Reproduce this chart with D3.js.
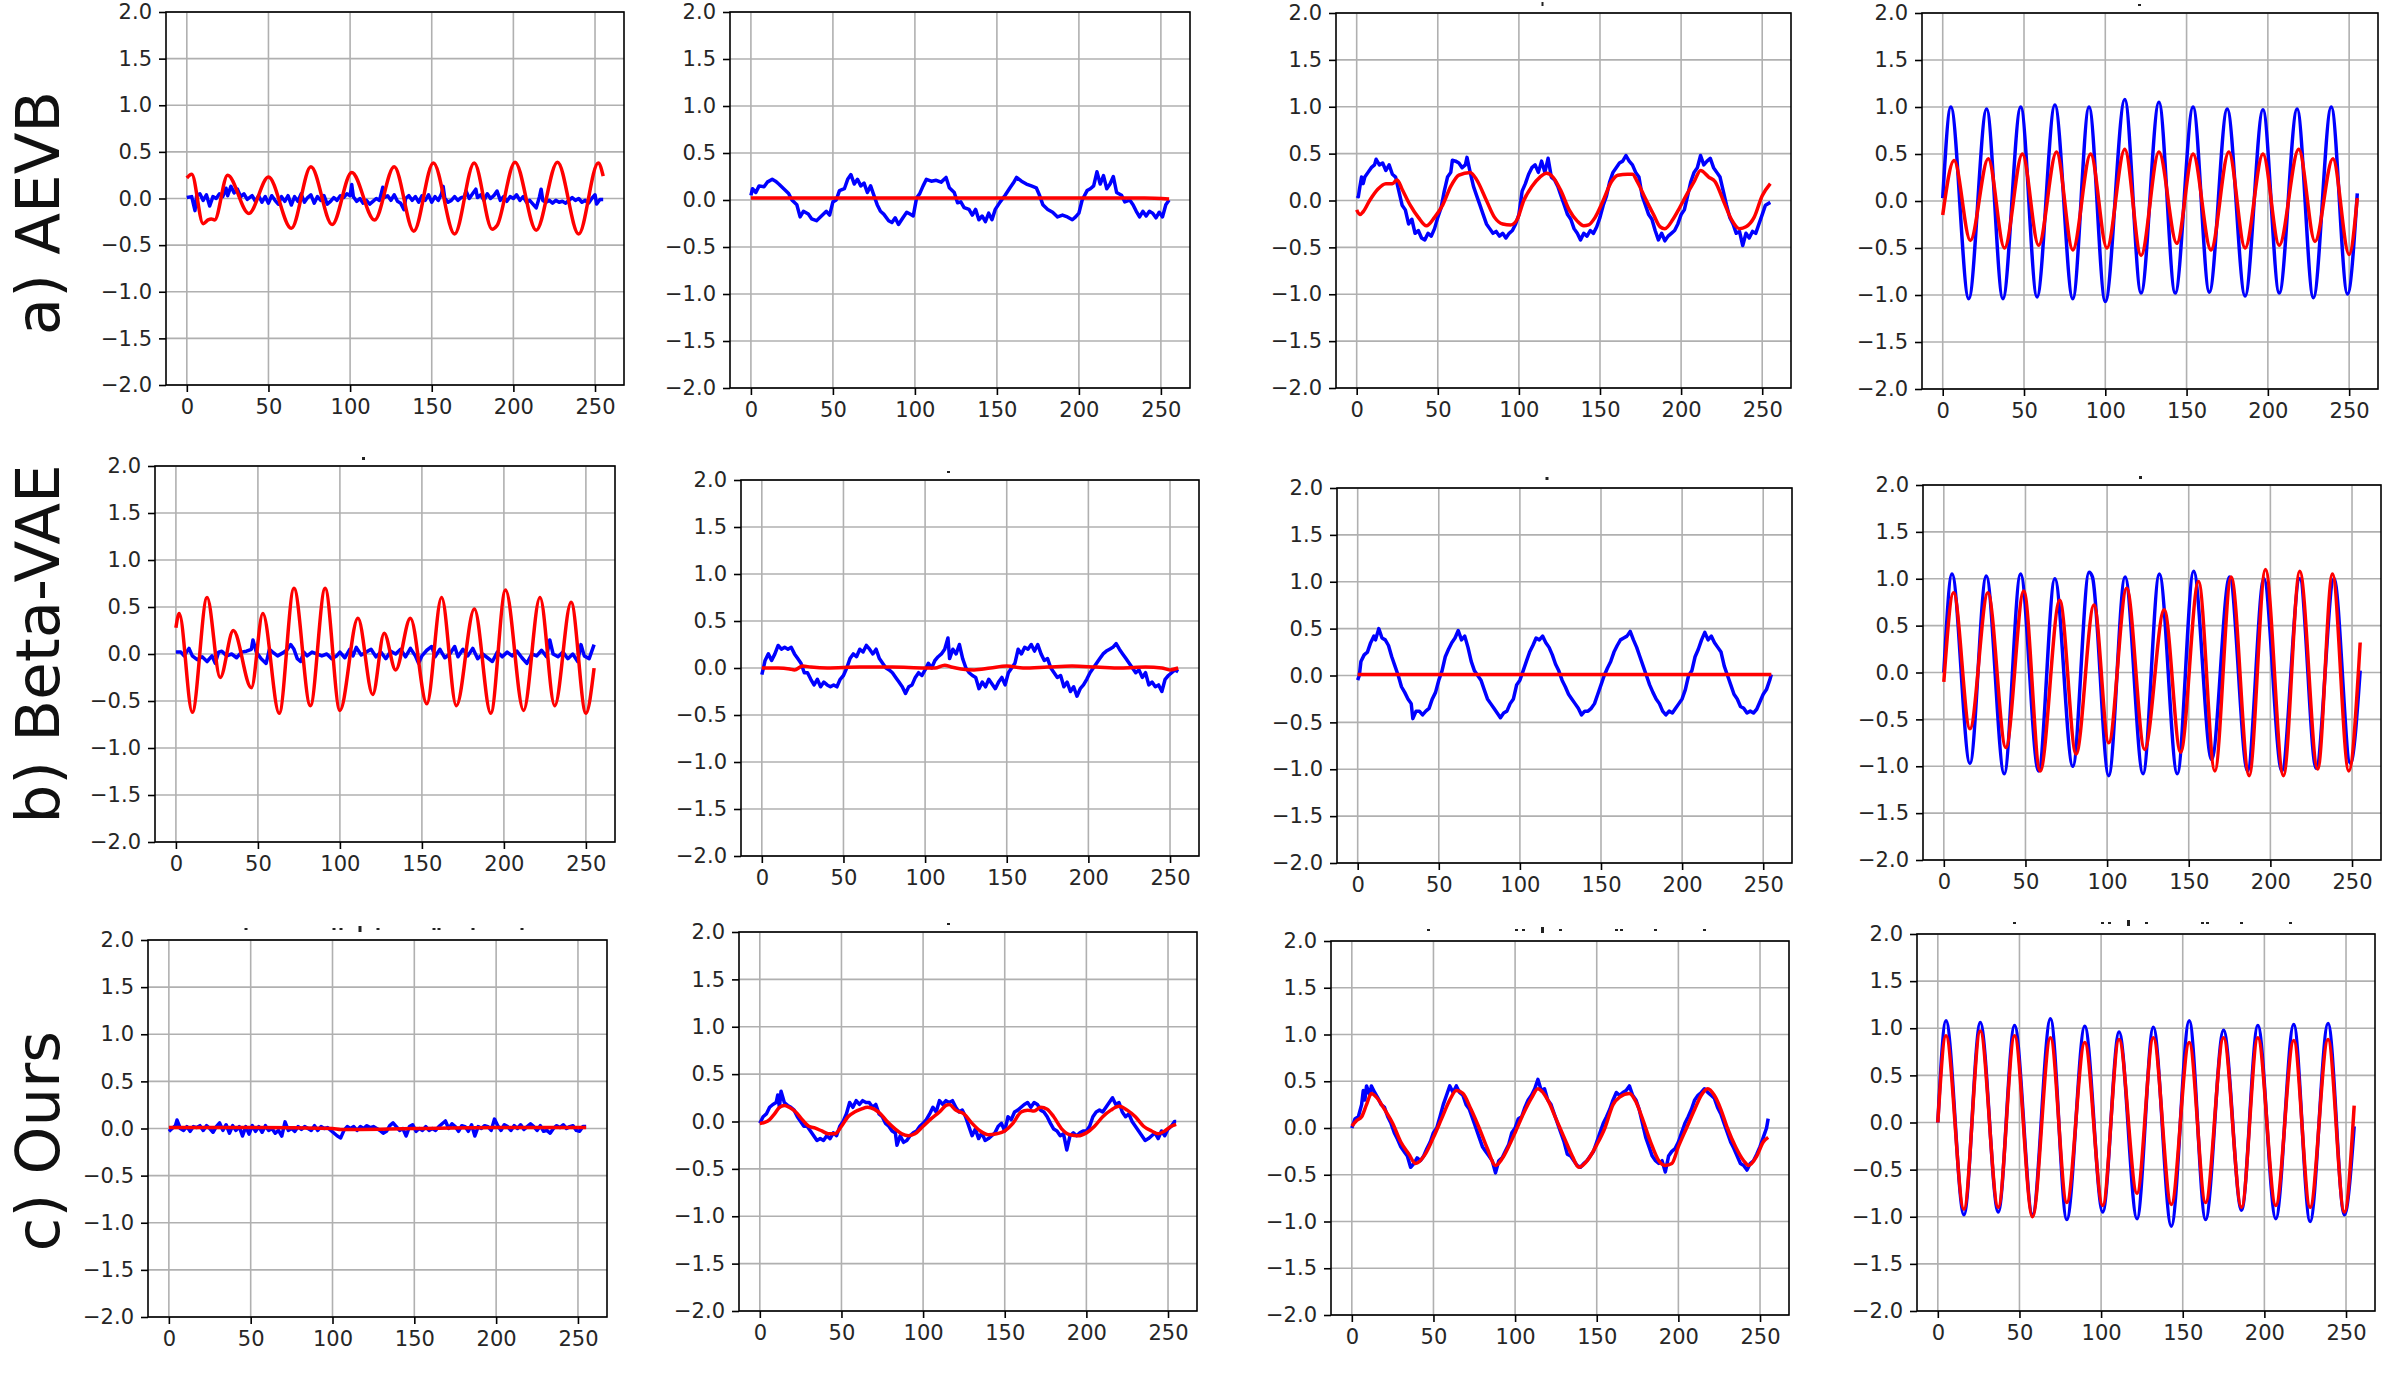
<!DOCTYPE html>
<html>
<head>
<meta charset="utf-8">
<script src="https://cdn.jsdelivr.net/npm/d3@7"></script>
<style>
  body { margin: 0; background: #fff; }
  svg { display: block; font-family: "DejaVu Sans", sans-serif; }
</style>
</head>
<body>
<div id="chart"></div>
<script>
// ---- data (x = sample index, y = value) ----
var xTicks = [0, 50, 100, 150, 200, 250];
var yTicks = [-2, -1.5, -1, -0.5, 0, 0.5, 1, 1.5, 2];
var rowLabels = ["a) AEVB", "b) Beta-VAE", "c) Ours"];

var aevbBlue1 = [[0,0.01],[3,0.02],[5,-0.13],[6,0.03],[8,0.05],[10,-0.02],[12,0.04],[14,-0.08],[16,0.02],[18,0.0],[20,0.05],[22,0.02],[24,0.11],[25,0.03],[27,0.13],[29,0.06],[31,0.1],[33,0.02],[35,0.05],[37,-0.01],[40,0.03],[42,-0.03],[44,0.03],[46,-0.04],[48,0.02],[50,-0.05],[52,0.03],[54,-0.02],[56,-0.06],[58,0.02],[60,-0.03],[62,0.03],[64,-0.07],[66,0.02],[68,-0.03],[70,0.05],[72,-0.04],[74,0.01],[76,0.04],[78,-0.05],[80,0.02],[82,-0.02],[84,0.03],[86,-0.06],[88,-0.03],[90,0.01],[92,-0.02],[94,0.03],[96,0.01],[98,0.05],[100,0.03],[101,0.15],[102,0.02],[104,-0.03],[106,0.0],[108,-0.05],[110,-0.02],[112,-0.06],[114,-0.03],[116,0.0],[118,-0.02],[120,0.12],[121,0.01],[123,0.03],[125,-0.02],[127,0.04],[129,-0.03],[131,-0.05],[133,-0.12],[134,0.0],[136,0.03],[138,-0.02],[140,0.02],[142,-0.04],[144,0.03],[146,-0.02],[148,0.04],[150,-0.04],[152,0.02],[154,-0.02],[156,0.05],[157,0.13],[158,0.0],[160,-0.04],[162,-0.02],[164,0.02],[166,-0.02],[168,0.01],[170,0.02],[171,0.08],[173,0.0],[175,0.05],[177,0.1],[178,0.01],[180,0.04],[182,-0.02],[184,0.05],[186,0.0],[188,0.03],[190,0.08],[192,-0.02],[194,0.02],[196,-0.03],[198,0.02],[200,0.0],[202,0.04],[204,-0.02],[206,0.02],[208,-0.04],[210,-0.02],[212,-0.06],[214,-0.1],[216,0.02],[217,0.1],[218,-0.02],[220,-0.04],[222,-0.02],[224,-0.05],[226,-0.02],[228,-0.04],[230,-0.03],[232,-0.05],[234,-0.02],[236,0.01],[238,-0.02],[240,0.0],[242,-0.04],[244,-0.02],[246,-0.05],[248,0.0],[250,0.04],[251,-0.06],[253,-0.01],[255,-0.01]];
var aevbRed1 = [[0,0.22],[3,0.26],[10,-0.27],[13,-0.23],[15,-0.22],[17,-0.23],[25,0.25],[38,-0.16],[50,0.23],[64,-0.32],[76,0.34],[89,-0.28],[101,0.28],[115,-0.23],[127,0.34],[139,-0.35],[151,0.38],[164,-0.38],[176,0.38],[187,-0.33],[190,-0.29],[201,0.39],[214,-0.34],[227,0.39],[240,-0.38],[252,0.38],[255,0.24]];

var aevbBlue2 = [[0,0.05],[1,0.12],[3,0.08],[5,0.15],[8,0.14],[10,0.19],[13,0.22],[15,0.2],[17,0.17],[20,0.12],[23,0.07],[25,0.0],[28,-0.05],[30,-0.18],[32,-0.12],[35,-0.15],[37,-0.2],[40,-0.22],[43,-0.17],[46,-0.12],[48,-0.16],[50,-0.02],[52,0.0],[54,0.1],[57,0.12],[59,0.22],[61,0.27],[63,0.17],[65,0.22],[67,0.15],[69,0.18],[71,0.08],[73,0.15],[75,0.05],[77,-0.05],[79,-0.12],[81,-0.15],[84,-0.22],[86,-0.24],[88,-0.19],[90,-0.26],[93,-0.18],[95,-0.13],[97,-0.15],[99,-0.17],[101,0.02],[103,0.07],[105,0.15],[107,0.22],[110,0.2],[113,0.21],[116,0.19],[119,0.24],[121,0.13],[124,0.08],[126,-0.03],[128,-0.02],[130,-0.08],[133,-0.1],[135,-0.16],[137,-0.1],[139,-0.21],[141,-0.17],[143,-0.23],[145,-0.14],[147,-0.21],[149,-0.1],[152,-0.02],[155,0.05],[158,0.13],[160,0.18],[162,0.24],[165,0.2],[168,0.17],[171,0.15],[174,0.13],[176,0.05],[178,-0.05],[181,-0.1],[184,-0.13],[187,-0.18],[190,-0.16],[193,-0.18],[196,-0.21],[198,-0.18],[200,-0.14],[202,0.0],[205,0.1],[207,0.12],[209,0.15],[211,0.3],[213,0.17],[215,0.26],[217,0.12],[219,0.17],[221,0.25],[223,0.08],[226,0.05],[228,-0.02],[231,0.0],[233,-0.05],[235,-0.12],[237,-0.18],[239,-0.12],[241,-0.17],[243,-0.12],[245,-0.14],[247,-0.19],[249,-0.13],[251,-0.18],[253,-0.05],[255,0.0]];
var aevbRed2 = [[0,0.02],[40,0.02],[80,0.02],[120,0.02],[160,0.02],[200,0.02],[240,0.02],[255,0.01]];

var aevbBlue3 = [[0,0.05],[1,0.04],[2,0.15],[3,0.25],[4,0.18],[5,0.25],[7,0.3],[9,0.35],[11,0.38],[12,0.44],[14,0.38],[16,0.4],[18,0.32],[20,0.38],[22,0.28],[24,0.25],[26,0.1],[28,-0.05],[30,-0.1],[32,-0.25],[34,-0.2],[36,-0.35],[38,-0.32],[40,-0.4],[42,-0.42],[44,-0.35],[46,-0.38],[48,-0.3],[50,-0.18],[52,-0.08],[54,0.1],[56,0.25],[58,0.3],[59,0.43],[61,0.42],[63,0.4],[65,0.35],[67,0.38],[68,0.46],[70,0.3],[72,0.15],[74,0.05],[76,-0.05],[78,-0.15],[80,-0.25],[82,-0.3],[84,-0.35],[86,-0.33],[88,-0.38],[90,-0.35],[92,-0.4],[94,-0.35],[96,-0.32],[98,-0.25],[100,-0.15],[102,0.1],[104,0.18],[106,0.28],[108,0.35],[110,0.38],[112,0.3],[114,0.42],[116,0.3],[118,0.45],[120,0.25],[122,0.22],[124,0.15],[126,0.05],[128,-0.05],[130,-0.15],[132,-0.2],[134,-0.3],[136,-0.35],[138,-0.42],[140,-0.35],[142,-0.38],[144,-0.32],[146,-0.35],[148,-0.28],[150,-0.18],[152,-0.05],[154,0.05],[156,0.2],[158,0.3],[160,0.35],[162,0.4],[164,0.42],[166,0.48],[168,0.42],[170,0.38],[172,0.3],[174,0.25],[176,0.05],[178,-0.05],[180,-0.15],[182,-0.2],[184,-0.32],[186,-0.42],[188,-0.35],[190,-0.43],[192,-0.38],[194,-0.35],[196,-0.32],[198,-0.25],[200,-0.15],[202,-0.1],[204,0.05],[206,0.2],[208,0.3],[210,0.35],[212,0.48],[214,0.38],[216,0.42],[218,0.45],[220,0.35],[222,0.3],[224,0.25],[226,0.1],[228,-0.05],[230,-0.18],[232,-0.25],[234,-0.35],[236,-0.33],[238,-0.48],[240,-0.35],[242,-0.4],[244,-0.33],[246,-0.35],[248,-0.25],[250,-0.15],[252,-0.05],[255,-0.02]];
var aevbRed3 = [[0,-0.1],[2,-0.15],[4,-0.12],[8,0.0],[13,0.12],[18,0.18],[22,0.18],[25,0.22],[28,0.12],[33,-0.05],[38,-0.18],[43,-0.27],[48,-0.18],[53,-0.05],[58,0.15],[63,0.27],[70,0.3],[74,0.22],[80,0.0],[85,-0.18],[90,-0.25],[95,-0.26],[99,-0.2],[103,0.0],[108,0.15],[113,0.25],[117,0.29],[121,0.25],[126,0.1],[131,-0.1],[136,-0.22],[140,-0.27],[143,-0.26],[147,-0.18],[152,0.0],[157,0.2],[161,0.27],[167,0.28],[170,0.28],[173,0.2],[178,0.02],[183,-0.15],[187,-0.28],[190,-0.3],[195,-0.2],[199,-0.08],[203,0.05],[208,0.2],[212,0.32],[217,0.25],[221,0.2],[226,0.0],[231,-0.2],[236,-0.3],[240,-0.28],[245,-0.18],[250,0.05],[255,0.18]];

var aevbBlue4 = [[0,0.03],[5,1.0],[16,-1.04],[27,0.98],[37,-1.04],[48,1.0],[58,-1.02],[69,1.02],[80,-1.04],[90,1.0],[100,-1.07],[112,1.08],[122,-0.98],[133,1.05],[143,-0.98],[154,1.0],[164,-0.97],[175,0.98],[186,-1.01],[197,0.97],[207,-0.98],[218,0.98],[228,-1.03],[239,1.0],[249,-0.99],[255,0.08]];
var aevbRed4 = [[0,-0.15],[7,0.43],[17,-0.42],[28,0.45],[38,-0.5],[49,0.5],[59,-0.47],[70,0.52],[80,-0.52],[91,0.5],[101,-0.5],[112,0.55],[122,-0.58],[133,0.52],[144,-0.45],[154,0.5],[165,-0.52],[176,0.52],[186,-0.5],[197,0.5],[207,-0.47],[219,0.55],[229,-0.43],[240,0.45],[250,-0.57],[255,0.03]];

var betaBlue1 = [[0,0.02],[3,0.02],[5,-0.02],[8,0.06],[10,-0.02],[13,-0.06],[16,-0.03],[19,-0.08],[22,-0.02],[24,-0.1],[26,0.02],[28,0.03],[31,-0.02],[34,0.0],[37,-0.04],[40,0.02],[43,0.03],[46,0.05],[47,0.15],[49,0.02],[52,-0.05],[55,-0.1],[57,0.05],[59,0.02],[62,-0.02],[66,0.02],[68,0.05],[70,0.1],[72,0.05],[74,-0.05],[76,-0.08],[78,0.02],[80,-0.02],[83,0.02],[86,0.0],[89,-0.02],[92,0.0],[95,-0.05],[98,-0.02],[100,0.02],[103,-0.04],[106,0.05],[108,-0.02],[110,0.07],[113,-0.01],[116,0.02],[119,0.05],[122,-0.03],[125,0.02],[128,-0.05],[131,0.03],[134,0.0],[137,0.05],[140,-0.03],[143,0.06],[146,-0.02],[148,-0.1],[150,-0.02],[153,0.04],[156,0.08],[158,-0.03],[161,0.05],[164,-0.04],[167,0.0],[170,0.08],[172,-0.03],[175,0.05],[178,-0.02],[181,0.06],[184,-0.05],[187,0.0],[190,-0.04],[193,-0.08],[196,0.02],[199,-0.03],[202,0.02],[205,-0.02],[208,0.03],[211,-0.04],[214,-0.1],[217,0.0],[220,-0.02],[223,0.04],[226,-0.03],[228,0.15],[230,0.0],[233,-0.03],[236,0.02],[239,-0.05],[242,0.0],[245,-0.08],[247,0.1],[249,-0.02],[252,-0.05],[255,0.1]];
var betaRed1 = [[0,0.28],[2,0.43],[10,-0.62],[19,0.6],[27,-0.25],[35,0.25],[46,-0.36],[53,0.43],[63,-0.63],[72,0.7],[82,-0.55],[91,0.7],[100,-0.6],[111,0.38],[120,-0.43],[127,0.22],[134,-0.17],[143,0.38],[153,-0.53],[162,0.6],[171,-0.55],[182,0.48],[192,-0.63],[201,0.68],[212,-0.6],[222,0.6],[231,-0.55],[241,0.55],[250,-0.63],[255,-0.15]];

var betaBlue2 = [[0,-0.07],[1,0.0],[2,0.08],[4,0.15],[6,0.08],[8,0.15],[10,0.24],[12,0.2],[14,0.22],[16,0.2],[18,0.22],[20,0.15],[22,0.1],[24,0.05],[26,-0.05],[28,-0.05],[30,-0.12],[32,-0.18],[34,-0.12],[36,-0.2],[38,-0.15],[40,-0.18],[42,-0.2],[44,-0.18],[46,-0.2],[48,-0.12],[50,-0.08],[52,0.0],[54,0.1],[56,0.15],[58,0.12],[60,0.2],[62,0.17],[64,0.24],[66,0.2],[68,0.15],[70,0.2],[72,0.1],[74,0.05],[76,0.0],[78,-0.02],[80,-0.05],[82,-0.1],[84,-0.15],[86,-0.2],[88,-0.27],[90,-0.2],[92,-0.18],[94,-0.1],[96,-0.05],[98,-0.08],[100,-0.02],[102,0.05],[104,0.0],[106,0.08],[108,0.12],[110,0.15],[112,0.2],[114,0.32],[115,0.1],[117,0.2],[119,0.15],[121,0.25],[123,0.1],[125,0.0],[127,-0.05],[129,-0.08],[131,-0.1],[133,-0.22],[135,-0.15],[137,-0.2],[139,-0.12],[141,-0.17],[143,-0.22],[145,-0.15],[147,-0.1],[149,-0.18],[151,-0.05],[153,0.0],[155,0.05],[157,0.2],[159,0.15],[161,0.22],[163,0.2],[165,0.25],[167,0.18],[169,0.25],[171,0.15],[173,0.08],[175,0.1],[177,0.0],[179,-0.05],[181,-0.1],[183,-0.08],[185,-0.2],[187,-0.15],[189,-0.25],[191,-0.2],[193,-0.3],[195,-0.22],[197,-0.18],[199,-0.12],[201,-0.05],[203,0.0],[205,0.05],[207,0.1],[209,0.15],[211,0.18],[213,0.2],[215,0.22],[217,0.26],[219,0.2],[221,0.15],[223,0.1],[225,0.05],[227,0.0],[229,-0.05],[231,-0.02],[233,-0.1],[235,-0.05],[237,-0.18],[239,-0.15],[241,-0.2],[243,-0.18],[245,-0.25],[247,-0.12],[249,-0.08],[251,-0.05],[253,-0.02],[255,-0.04]];
var betaRed2 = [[0,0.0],[10,0.0],[17,-0.01],[20,-0.02],[25,0.02],[30,0.01],[40,0.0],[60,0.01],[80,0.01],[100,0.0],[106,0.0],[112,0.03],[116,0.01],[122,-0.01],[130,-0.02],[140,0.0],[150,0.02],[160,0.0],[175,0.01],[190,0.02],[205,0.01],[220,0.0],[235,0.01],[245,0.0],[250,-0.02],[255,0.0]];

var betaBlue3 = [[0,-0.05],[1,0.0],[2,0.15],[4,0.22],[6,0.25],[8,0.35],[10,0.42],[11,0.38],[13,0.5],[15,0.4],[17,0.38],[19,0.32],[21,0.2],[23,0.1],[25,0.0],[27,-0.12],[29,-0.18],[31,-0.25],[33,-0.3],[34,-0.46],[36,-0.38],[38,-0.38],[40,-0.42],[42,-0.38],[44,-0.35],[46,-0.25],[48,-0.18],[50,-0.05],[52,0.05],[54,0.2],[56,0.28],[58,0.35],[60,0.4],[62,0.48],[64,0.38],[66,0.42],[68,0.3],[70,0.15],[72,0.05],[74,0.0],[76,-0.05],[78,-0.15],[80,-0.25],[82,-0.3],[84,-0.35],[86,-0.4],[88,-0.45],[90,-0.4],[92,-0.38],[94,-0.3],[96,-0.25],[98,-0.1],[100,-0.05],[102,0.05],[104,0.15],[106,0.25],[108,0.32],[110,0.4],[112,0.38],[114,0.42],[116,0.35],[118,0.3],[120,0.22],[122,0.12],[124,0.05],[126,-0.05],[128,-0.12],[130,-0.2],[132,-0.25],[134,-0.3],[136,-0.35],[138,-0.42],[140,-0.38],[142,-0.38],[144,-0.35],[146,-0.3],[148,-0.2],[150,-0.1],[152,0.0],[154,0.08],[156,0.15],[158,0.25],[160,0.32],[162,0.38],[164,0.4],[166,0.42],[168,0.47],[170,0.38],[172,0.3],[174,0.2],[176,0.1],[178,0.0],[180,-0.1],[182,-0.18],[184,-0.25],[186,-0.3],[188,-0.38],[190,-0.42],[192,-0.38],[194,-0.4],[196,-0.35],[198,-0.3],[200,-0.25],[202,-0.15],[204,0.0],[206,0.05],[208,0.2],[210,0.28],[212,0.38],[214,0.46],[216,0.38],[218,0.42],[220,0.35],[222,0.3],[224,0.25],[226,0.1],[228,0.0],[230,-0.1],[232,-0.2],[234,-0.25],[236,-0.33],[238,-0.35],[240,-0.4],[242,-0.38],[244,-0.4],[246,-0.36],[248,-0.28],[250,-0.2],[252,-0.15],[254,-0.05],[255,0.01]];
var betaRed3 = [[0,0.01],[64,0.01],[128,0.01],[192,0.01],[255,0.01]];

var betaBlue4 = [[0,0.0],[5,1.05],[16,-0.97],[26,1.03],[37,-1.08],[47,1.05],[58,-1.05],[68,1.0],[79,-1.0],[89,1.07],[91,1.02],[101,-1.1],[111,1.02],[122,-1.08],[132,1.05],[143,-1.08],[153,1.08],[164,-0.93],[175,1.02],[186,-1.05],[196,1.0],[207,-1.05],[218,1.0],[228,-1.02],[239,1.0],[249,-0.97],[255,0.02]];
var betaRed4 = [[0,-0.1],[6,0.85],[16,-0.6],[27,0.85],[38,-0.8],[49,0.87],[59,-1.05],[71,0.77],[81,-0.87],[92,0.72],[101,-0.75],[112,0.9],[123,-0.82],[135,0.67],[145,-0.85],[156,0.97],[166,-1.05],[176,1.02],[187,-1.1],[197,1.1],[208,-1.1],[218,1.08],[229,-1.03],[238,1.05],[248,-1.05],[255,0.32]];

var oursBlue1 = [[0,-0.03],[2,0.0],[4,0.03],[5,0.09],[7,0.0],[9,-0.02],[11,0.02],[13,-0.03],[15,0.02],[17,0.01],[19,0.03],[21,-0.02],[23,0.03],[25,0.0],[27,-0.04],[29,0.02],[31,0.06],[33,-0.02],[35,0.04],[37,-0.05],[39,0.03],[41,-0.02],[43,0.02],[45,-0.08],[47,0.02],[49,-0.06],[51,0.03],[53,-0.03],[55,0.02],[57,-0.04],[59,0.03],[61,-0.02],[63,0.0],[65,-0.05],[67,-0.02],[69,-0.08],[71,0.07],[73,-0.02],[75,0.0],[77,-0.03],[79,0.02],[81,-0.01],[83,0.02],[85,0.0],[87,-0.02],[89,0.03],[91,-0.02],[93,0.02],[95,0.0],[97,0.01],[99,-0.02],[101,-0.05],[103,-0.08],[105,-0.1],[107,-0.02],[109,0.02],[111,0.0],[113,0.02],[115,-0.02],[117,0.02],[119,0.0],[121,0.03],[123,0.01],[125,0.02],[127,0.0],[129,-0.02],[131,-0.05],[133,-0.03],[135,0.03],[137,0.06],[139,0.02],[141,-0.02],[143,0.0],[145,-0.08],[147,0.02],[149,0.04],[151,-0.03],[153,0.0],[155,-0.02],[157,0.02],[159,-0.02],[161,0.0],[163,-0.02],[165,0.02],[167,0.05],[169,0.08],[171,0.0],[173,0.05],[175,0.02],[177,-0.03],[179,0.03],[181,0.02],[183,-0.03],[185,0.04],[187,-0.08],[189,0.02],[191,0.0],[193,0.03],[195,0.02],[197,-0.02],[199,0.1],[201,0.03],[203,-0.02],[205,0.04],[207,0.02],[209,-0.02],[211,0.03],[213,0.0],[215,0.04],[217,-0.01],[219,0.02],[221,0.05],[223,0.02],[225,-0.02],[227,0.03],[229,-0.03],[231,-0.02],[233,-0.05],[235,0.0],[237,0.03],[239,0.01],[241,0.04],[243,0.0],[245,0.02],[247,0.03],[249,-0.02],[251,-0.03],[253,0.02],[255,0.02]];
var oursRed1 = [[0,0.01],[50,0.01],[100,0.0],[105,-0.01],[150,0.0],[200,0.01],[255,0.01]];

var oursBlue2 = [[0,-0.02],[2,0.05],[4,0.08],[6,0.15],[8,0.18],[10,0.2],[11,0.28],[12,0.15],[13,0.32],[15,0.2],[17,0.17],[19,0.15],[21,0.12],[23,0.05],[25,0.0],[27,-0.05],[29,-0.05],[31,-0.1],[33,-0.15],[35,-0.2],[37,-0.18],[39,-0.2],[41,-0.15],[43,-0.18],[45,-0.12],[47,-0.15],[49,-0.05],[51,0.0],[53,0.08],[55,0.2],[57,0.15],[59,0.22],[61,0.18],[63,0.22],[65,0.2],[67,0.2],[69,0.15],[71,0.18],[73,0.08],[75,0.05],[77,-0.02],[79,-0.05],[81,-0.1],[83,-0.12],[84,-0.25],[86,-0.15],[88,-0.22],[90,-0.2],[92,-0.15],[94,-0.12],[96,-0.1],[98,-0.05],[100,-0.02],[102,0.02],[104,0.08],[106,0.15],[108,0.1],[110,0.22],[112,0.18],[114,0.22],[116,0.2],[118,0.22],[120,0.15],[122,0.1],[124,0.12],[126,0.05],[128,-0.05],[130,-0.15],[132,-0.08],[134,-0.18],[136,-0.12],[138,-0.2],[140,-0.18],[142,-0.15],[144,-0.12],[146,-0.05],[148,-0.02],[150,-0.1],[152,0.05],[154,0.02],[156,0.1],[158,0.12],[160,0.15],[162,0.18],[164,0.2],[166,0.15],[168,0.2],[170,0.18],[172,0.12],[174,0.1],[176,0.05],[178,-0.02],[180,-0.08],[182,-0.1],[184,-0.15],[186,-0.13],[188,-0.3],[190,-0.15],[192,-0.12],[194,-0.15],[196,-0.12],[198,-0.1],[200,-0.1],[202,-0.05],[204,0.05],[206,0.1],[208,0.12],[210,0.1],[212,0.15],[214,0.2],[216,0.25],[218,0.18],[220,0.2],[222,0.1],[224,0.05],[226,0.08],[228,0.0],[230,-0.05],[232,-0.1],[234,-0.15],[236,-0.2],[238,-0.18],[240,-0.15],[242,-0.12],[244,-0.18],[246,-0.1],[248,-0.15],[250,-0.08],[252,-0.05],[254,0.0],[255,0.0]];
var oursRed2 = [[0,-0.02],[3,-0.01],[6,0.02],[9,0.08],[12,0.15],[15,0.17],[18,0.15],[22,0.1],[26,0.02],[30,-0.05],[34,-0.07],[38,-0.1],[42,-0.13],[46,-0.13],[50,-0.05],[54,0.05],[58,0.1],[62,0.13],[66,0.15],[70,0.13],[74,0.08],[78,0.0],[83,-0.08],[87,-0.13],[91,-0.15],[95,-0.13],[100,-0.05],[105,0.03],[110,0.1],[114,0.17],[116,0.18],[120,0.12],[125,0.08],[130,-0.02],[135,-0.1],[140,-0.14],[145,-0.13],[150,-0.1],[155,-0.02],[160,0.1],[164,0.12],[168,0.11],[172,0.15],[176,0.13],[180,0.05],[185,-0.08],[190,-0.14],[195,-0.15],[200,-0.12],[205,-0.05],[210,0.05],[215,0.12],[220,0.16],[225,0.12],[230,0.05],[235,-0.05],[240,-0.1],[244,-0.13],[248,-0.1],[252,-0.05],[255,-0.03]];

var oursBlue3 = [[0,0.0],[2,0.1],[4,0.12],[6,0.25],[7,0.4],[8,0.3],[9,0.45],[11,0.35],[12,0.45],[14,0.38],[16,0.32],[18,0.25],[20,0.22],[22,0.12],[24,0.05],[26,-0.05],[28,-0.12],[30,-0.2],[32,-0.25],[34,-0.3],[36,-0.42],[38,-0.38],[40,-0.32],[42,-0.35],[44,-0.3],[46,-0.22],[48,-0.15],[50,-0.05],[52,0.0],[54,0.12],[56,0.25],[58,0.35],[60,0.45],[62,0.38],[64,0.45],[66,0.38],[68,0.35],[70,0.25],[72,0.2],[74,0.1],[76,0.0],[78,-0.1],[80,-0.2],[82,-0.25],[84,-0.3],[86,-0.35],[88,-0.48],[90,-0.35],[92,-0.32],[94,-0.25],[96,-0.18],[98,-0.05],[100,0.0],[102,0.1],[104,0.12],[106,0.22],[108,0.3],[110,0.35],[112,0.42],[114,0.52],[116,0.4],[118,0.42],[120,0.3],[122,0.25],[124,0.15],[126,0.05],[128,-0.05],[130,-0.15],[132,-0.28],[134,-0.3],[136,-0.35],[138,-0.4],[140,-0.42],[142,-0.38],[144,-0.35],[146,-0.3],[148,-0.25],[150,-0.15],[152,-0.05],[154,0.05],[156,0.12],[158,0.2],[160,0.3],[162,0.38],[164,0.35],[166,0.38],[168,0.4],[170,0.45],[172,0.35],[174,0.3],[176,0.2],[178,0.05],[180,-0.1],[182,-0.2],[184,-0.3],[186,-0.35],[188,-0.38],[190,-0.35],[192,-0.47],[194,-0.3],[196,-0.25],[198,-0.22],[200,-0.15],[202,-0.05],[204,0.05],[206,0.12],[208,0.2],[210,0.3],[212,0.35],[214,0.38],[216,0.42],[218,0.38],[220,0.35],[222,0.32],[224,0.22],[226,0.15],[228,0.05],[230,-0.05],[232,-0.15],[234,-0.22],[236,-0.3],[238,-0.38],[240,-0.4],[242,-0.45],[244,-0.38],[246,-0.35],[248,-0.28],[250,-0.2],[252,-0.1],[254,0.0],[255,0.1]];
var oursRed3 = [[0,0.02],[3,0.08],[6,0.12],[9,0.25],[12,0.37],[15,0.33],[20,0.2],[25,0.05],[30,-0.15],[35,-0.28],[39,-0.38],[45,-0.28],[50,-0.1],[55,0.1],[60,0.3],[64,0.4],[68,0.37],[73,0.2],[78,0.0],[83,-0.22],[88,-0.4],[92,-0.33],[96,-0.2],[100,-0.05],[105,0.15],[110,0.32],[114,0.42],[120,0.3],[125,0.1],[130,-0.1],[135,-0.3],[139,-0.42],[145,-0.33],[150,-0.18],[155,0.0],[160,0.25],[164,0.33],[170,0.37],[174,0.28],[178,0.1],[183,-0.15],[188,-0.35],[192,-0.4],[196,-0.38],[200,-0.2],[205,0.0],[210,0.2],[214,0.35],[218,0.42],[222,0.35],[226,0.2],[230,0.0],[235,-0.2],[240,-0.35],[243,-0.4],[248,-0.3],[252,-0.15],[255,-0.1]];

var oursBlue4 = [[0,0.0],[5,1.08],[16,-0.98],[26,1.06],[37,-0.95],[47,1.03],[58,-0.98],[69,1.1],[79,-1.03],[90,1.02],[101,-0.95],[111,0.96],[122,-1.02],[132,1.01],[143,-1.1],[154,1.08],[164,-1.03],[175,0.98],[186,-0.93],[196,1.03],[207,-1.02],[218,1.04],[228,-1.05],[239,1.05],[249,-0.98],[255,-0.04]];
var oursRed4 = [[0,0.0],[5,0.92],[16,-0.92],[26,0.97],[37,-0.9],[47,0.92],[58,-1.0],[69,0.9],[79,-0.85],[90,0.85],[101,-0.88],[111,0.88],[122,-0.75],[132,0.9],[143,-0.87],[154,0.85],[164,-0.85],[175,0.9],[186,-0.9],[196,0.9],[207,-0.88],[218,0.87],[228,-0.9],[239,0.88],[249,-0.95],[255,0.18]];

// ---- layout ----
var width = 2404;
var height = 1374;

// each panel: axes box in pixels, the two series, and whether the blue one is jagged
var panels = [
    {left: 166, top: 12,  w: 458, h: 373, blue: aevbBlue1, red: aevbRed1, jagged: true,  marks: []},
    {left: 730, top: 12,  w: 460, h: 376, blue: aevbBlue2, red: aevbRed2, jagged: true,  marks: []},
    {left: 1336, top: 13, w: 455, h: 375, blue: aevbBlue3, red: aevbRed3, jagged: true,  marks: [[-22, -11, 2, 4]]},
    {left: 1922, top: 13, w: 456, h: 376, blue: aevbBlue4, red: aevbRed4, jagged: false, marks: [[-12, -9, 3, 2]]},
    {left: 155, top: 466, w: 460, h: 376, blue: betaBlue1, red: betaRed1, jagged: true,  marks: [[-23, -9, 3, 3]]},
    {left: 741, top: 480, w: 458, h: 376, blue: betaBlue2, red: betaRed2, jagged: true,  marks: [[-23, -9, 3, 2]]},
    {left: 1337, top: 488, w: 455, h: 375, blue: betaBlue3, red: betaRed3, jagged: true, marks: [[-19, -11, 3, 3]]},
    {left: 1923, top: 485, w: 458, h: 375, blue: betaBlue4, red: betaRed4, jagged: false, marks: [[-13, -9, 3, 3]]},
    {left: 148, top: 940, w: 459, h: 377, blue: oursBlue1, red: oursRed1, jagged: true,  marks: 'c'},
    {left: 739, top: 932, w: 458, h: 379, blue: oursBlue2, red: oursRed2, jagged: true,  marks: [[-21, -9, 3, 2]]},
    {left: 1331, top: 941, w: 458, h: 374, blue: oursBlue3, red: oursRed3, jagged: true, marks: 'c'},
    {left: 1917, top: 934, w: 458, h: 377, blue: oursBlue4, red: oursRed4, jagged: false, marks: 'c'}
];

// bottoms of the cut-off titles in row c
var rowCMarks = [[-133,-12,3,2],[-45,-12,3,2],[-38,-12,3,2],[-19,-14,3,6],[-1,-12,3,2],[55,-12,3,2],[60,-12,3,2],[94,-12,3,2],[143,-12,3,2]];

var rowLabelY = [213, 644, 1141];

var svg = d3.select("#chart")
    .append("svg")
        .attr("width", width)
        .attr("height", height);

svg.append("rect")
    .attr("width", width)
    .attr("height", height)
    .attr("fill", "#fff");

var gridColor = "#b0b0b0";
var textColor = "#262626";

panels.forEach(function(p, i) {
    var g = svg.append("g")
        .attr("transform", "translate(" + p.left + "," + p.top + ")");

    var x = d3.scaleLinear().domain([-12.75, 267.75]).range([0, p.w]);
    var y = d3.scaleLinear().domain([-2, 2]).range([p.h, 0]);

    // grid
    g.append("g").selectAll("line")
        .data(xTicks)
        .enter()
        .append("line")
        .attr("x1", function(d) { return x(d); })
        .attr("x2", function(d) { return x(d); })
        .attr("y1", 0)
        .attr("y2", p.h)
        .attr("stroke", gridColor)
        .attr("stroke-width", 1.6);

    g.append("g").selectAll("line")
        .data(yTicks)
        .enter()
        .append("line")
        .attr("x1", 0)
        .attr("x2", p.w)
        .attr("y1", function(d) { return y(d); })
        .attr("y2", function(d) { return y(d); })
        .attr("stroke", gridColor)
        .attr("stroke-width", 1.6);

    // lines
    var clipId = "clip" + i;
    g.append("clipPath").attr("id", clipId)
        .append("rect").attr("width", p.w).attr("height", p.h);

    var jaggedLine = d3.line()
        .x(function(d) { return x(d[0]); })
        .y(function(d) { return y(d[1]); });
    var smoothLine = d3.line()
        .curve(d3.curveMonotoneX)
        .x(function(d) { return x(d[0]); })
        .y(function(d) { return y(d[1]); });

    g.append("path")
        .attr("clip-path", "url(#" + clipId + ")")
        .attr("d", (p.jagged ? jaggedLine : smoothLine)(p.blue))
        .attr("fill", "none")
        .attr("stroke", "#0000ff")
        .attr("stroke-width", 3.5)
        .attr("stroke-linejoin", "round");

    g.append("path")
        .attr("clip-path", "url(#" + clipId + ")")
        .attr("d", smoothLine(p.red))
        .attr("fill", "none")
        .attr("stroke", "#ff0000")
        .attr("stroke-width", 3.5)
        .attr("stroke-linejoin", "round");

    // axes
    var xAxis = d3.axisBottom(x)
        .tickValues(xTicks)
        .tickSize(7)
        .tickPadding(7)
        .tickFormat(d3.format("d"));
    var yAxis = d3.axisLeft(y)
        .tickValues(yTicks)
        .tickSize(7)
        .tickPadding(7)
        .tickFormat(d3.format(".1f"));

    var gx = g.append("g")
        .attr("transform", "translate(0," + p.h + ")")
        .call(xAxis);
    var gy = g.append("g")
        .call(yAxis);

    [gx, gy].forEach(function(ax) {
        ax.attr("font-family", '"DejaVu Sans", sans-serif').attr("font-size", 21);
        ax.select(".domain").remove();
        ax.selectAll(".tick line").attr("stroke", "#000").attr("stroke-width", 1.6);
        ax.selectAll(".tick text").attr("fill", textColor);
    });

    // frame
    g.append("rect")
        .attr("width", p.w)
        .attr("height", p.h)
        .attr("fill", "none")
        .attr("stroke", "#000")
        .attr("stroke-width", 1.6);

    // leftovers of clipped titles
    var marks = p.marks === 'c' ? rowCMarks : p.marks;
    g.selectAll(".mark")
        .data(marks)
        .enter()
        .append("rect")
        .attr("class", "mark")
        .attr("x", function(d) { return p.w / 2 + d[0]; })
        .attr("y", function(d) { return d[1]; })
        .attr("width", function(d) { return d[2]; })
        .attr("height", function(d) { return d[3]; })
        .attr("fill", "#222");
});

svg.selectAll(".row-label")
    .data(rowLabels)
    .enter()
    .append("text")
    .attr("class", "row-label")
    .attr("transform", function(d, i) { return "translate(59," + rowLabelY[i] + ") rotate(-90)"; })
    .attr("text-anchor", "middle")
    .attr("font-size", 61)
    .attr("fill", "#111")
    .text(function(d) { return d; });
</script>
</body>
</html>
